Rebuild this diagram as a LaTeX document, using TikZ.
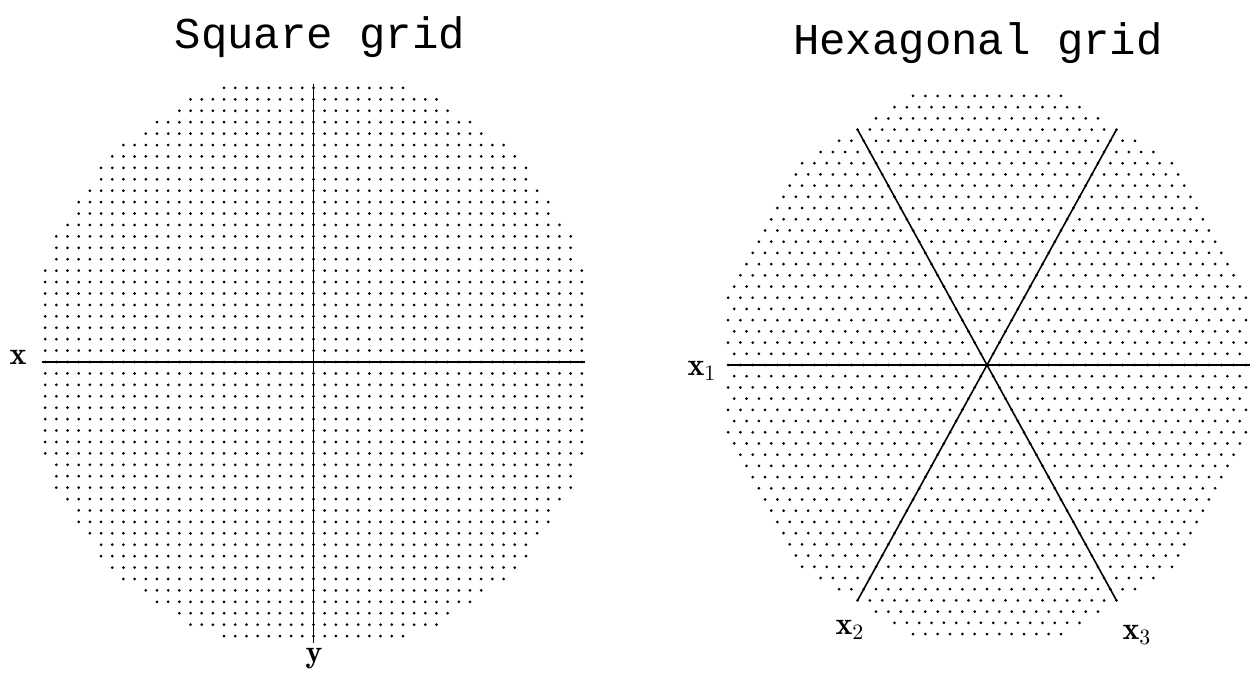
\documentclass[tikz,border=0pt]{standalone}
\usepackage{fontspec}
\newfontfamily\titlefont{Liberation Mono}
\usetikzlibrary{calc,positioning}
\begin{document}
\begin{tikzpicture}[x=0.5pt,y=-0.5pt]
  \tikzset{
    gridpt/.style={fill=black},
    axis/.style={line width=0.8pt},
    title/.style={font=\fontsize{22}{26}\selectfont\titlefont},
    axlabel/.style={font=\fontsize{16}{19}\selectfont},
  }
\useasboundingbox (0,0) rectangle (1252,674);

\coordinate (sq) at (313.5,362);
\coordinate (hx) at (987,365);

% square lattice, clipped to a disc
\begin{scope}[shift={(sq)},x=5.59pt,y=5.71pt]
\foreach \i in {-24,...,24}{
  \foreach \j in {-24,...,24}{
    \ifnum\numexpr\i*\i+\j*\j\relax<651
      \fill[gridpt] (\i,\j) circle[radius=0.75pt];
    \fi
  }
}
\coordinate (sqW) at (-24.3,0);
\coordinate (sqE) at (24.3,0);
\coordinate (sqN) at (0,24.3);
\coordinate (sqS) at (0,-24.6);
\draw[axis] (sqW)--(sqE);
\draw[axis] (sqN)--(sqS);
\end{scope}

% hexagonal lattice, clipped to a dodecagon
\begin{scope}[shift={(hx)},x=6.165pt,y=5.605pt]
\foreach \j in {-24,...,24}{
  \foreach \i in {-22,...,22}{
    \pgfmathsetmacro\u{\i+0.5*mod(abs(\j),2)}
    \pgfmathsetmacro\v{0.866025*abs(\j)}
    \pgfmathparse{and(and(abs(\u)<21.2,0.5*abs(\u)+0.866025*\v<21.2),and(0.866025*abs(\u)+0.5*\v<20.85,\v<20.85))}
    \ifdim\pgfmathresult pt>0.5pt
      \fill[gridpt] (\u,\j) circle[radius=0.75pt];
    \fi
  }
}
\coordinate (hxW) at (-21,0);
\coordinate (hxE) at (21.3,0);
\coordinate (hxNW) at (-10.5,21);
\coordinate (hxSE) at (10.5,-21);
\coordinate (hxNE) at (10.5,21);
\coordinate (hxSW) at (-10.5,-21);
\draw[axis] (hxW)--(hxE);
\draw[axis] (hxNW)--(hxSE);
\draw[axis] (hxNE)--(hxSW);
\end{scope}

\node[title] (tsq) at (320,37) {Square grid};
\node[title] (thx) at (978,43) {Hexagonal grid};

\node[axlabel] (lx) at (18,357) {$\mathbf{x}$};
\node[axlabel] (ly) at (314,659) {$\mathbf{y}$};
\node[axlabel] (lx1) at (702,371) {$\mathbf{x}_1$};
\node[axlabel] (lx2) at (850,630) {$\mathbf{x}_2$};
\node[axlabel] (lx3) at (1137,635) {$\mathbf{x}_3$};

\end{tikzpicture}
\end{document}
